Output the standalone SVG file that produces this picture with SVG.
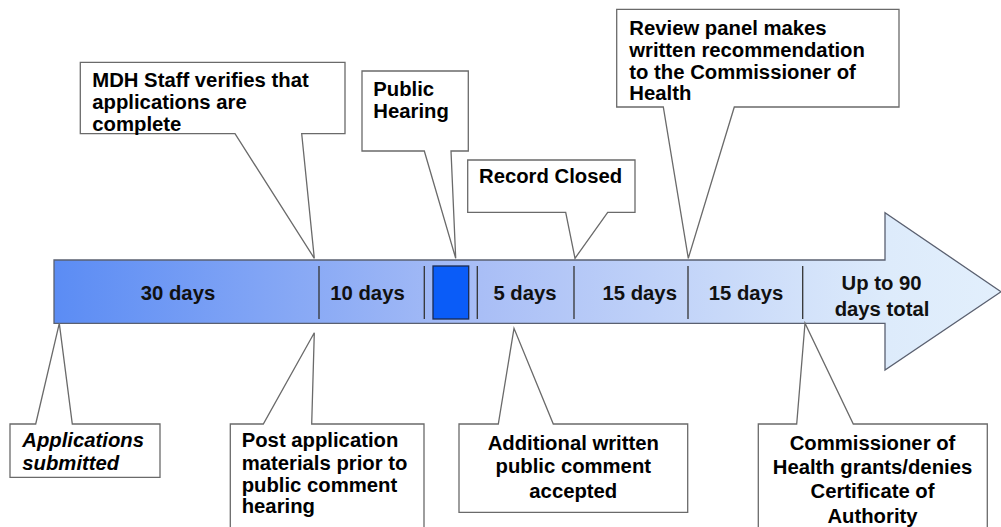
<svg xmlns="http://www.w3.org/2000/svg" width="1001" height="527" viewBox="0 0 1001 527">
<defs>
<linearGradient id="barGrad" gradientUnits="userSpaceOnUse" x1="54" y1="0" x2="1001" y2="0">
<stop offset="0" stop-color="#5B8CF4"/>
<stop offset="0.45" stop-color="#A9BEF6"/>
<stop offset="0.88" stop-color="#DDEBFB"/>
<stop offset="1" stop-color="#E2EFFC"/>
</linearGradient>
</defs>
<style>
.callout{fill:#fff;stroke:#6a6a6a;stroke-width:1.3}
.t{font-family:"Liberation Sans",Arial,sans-serif;font-weight:bold;font-size:20.3px;fill:#000}
.bt{font-family:"Liberation Sans",Arial,sans-serif;font-weight:bold;font-size:20.3px;fill:#111}
.div{stroke:#333;stroke-width:1.3}
</style>
<g id="timeline-arrow">
<path d="M54,260 H885 V212.7 L1001,291.7 L885,370 V323.3 H54 Z" fill="url(#barGrad)" stroke="#5a6070" stroke-width="1.3"/>
<g id="dividers">
<line class="div" x1="319" y1="266" x2="319" y2="319"/>
<line class="div" x1="424.3" y1="266" x2="424.3" y2="319"/>
<line class="div" x1="477.3" y1="266" x2="477.3" y2="319"/>
<line class="div" x1="574" y1="266" x2="574" y2="319"/>
<line class="div" x1="688" y1="266" x2="688" y2="319"/>
<line class="div" x1="802.7" y1="266" x2="802.7" y2="319"/>
</g>
<rect id="hearing-block" x="433" y="266" width="35.7" height="53" fill="#0A5CF8" stroke="#1a2a50" stroke-width="1.3"/>
<text class="bt" x="178" y="300" text-anchor="middle">30 days</text>
<text class="bt" x="367.5" y="300" text-anchor="middle">10 days</text>
<text class="bt" x="525" y="300" text-anchor="middle">5 days</text>
<text class="bt" x="639.7" y="300" text-anchor="middle">15 days</text>
<text class="bt" x="746" y="300" text-anchor="middle">15 days</text>
<text class="bt" x="881.5" y="290" text-anchor="middle">Up to 90</text>
<text class="bt" x="882" y="316" text-anchor="middle">days total</text>
</g>
<g id="connectors"/>
<g id="mdh-staff">
<path class="callout" d="M80.3,62.3 H345 V133.7 H301.7 L314.3,258.3 L235,133.7 H80.3 Z"/>
<text class="t" x="92.3" y="87.3">MDH Staff verifies that</text>
<text class="t" x="92.3" y="109">applications are</text>
<text class="t" x="92.3" y="130.7">complete</text>
</g>
<g id="public-hearing">
<path class="callout" d="M362,71 H468.3 V151 H451 L455.7,258.3 L424.3,151 H362 Z"/>
<text class="t" x="373.3" y="96">Public</text>
<text class="t" x="373.3" y="117.7">Hearing</text>
</g>
<g id="record-closed">
<path class="callout" d="M467.7,160 H635 V212.3 H607.7 L575,258.3 L565.7,212.3 H467.7 Z"/>
<text class="t" x="479" y="183.3">Record Closed</text>
</g>
<g id="review-panel">
<path class="callout" d="M616.7,9.3 H899 V107 H734.3 L688.3,258.3 L663.3,107 H616.7 Z"/>
<text class="t" x="629.3" y="35">Review panel makes</text>
<text class="t" x="629.3" y="57.3">written recommendation</text>
<text class="t" x="629.3" y="79">to the Commissioner of</text>
<text class="t" x="629.3" y="100">Health</text>
</g>
<g id="applications-submitted">
<path class="callout" d="M10,424 H35.7 L59.3,323.3 L72.3,424 H160 V477.3 H10 Z"/>
<text class="t" x="22.3" y="447.3" font-style="italic">Applications</text>
<text class="t" x="22.3" y="470" font-style="italic">submitted</text>
</g>
<g id="post-application">
<path class="callout" d="M230.3,424 H263.3 L314.3,332.7 L311.7,424 H424 V540 H230.3 Z"/>
<text class="t" x="241.7" y="447.3">Post application</text>
<text class="t" x="241.7" y="470">materials prior to</text>
<text class="t" x="241.7" y="492.3">public comment</text>
<text class="t" x="241.7" y="513.3">hearing</text>
</g>
<g id="additional-comment">
<path class="callout" d="M459,424 H498.3 L514,328.3 L553.3,424 H687.7 V512.3 H459 Z"/>
<text class="t" x="573.3" y="450" text-anchor="middle">Additional written</text>
<text class="t" x="573.3" y="473.3" text-anchor="middle">public comment</text>
<text class="t" x="573.3" y="498.3" text-anchor="middle">accepted</text>
</g>
<g id="commissioner-decision">
<path class="callout" d="M758.3,424 H796.7 L805,323.3 L853.3,424 H987.3 V540 H758.3 Z"/>
<text class="t" x="872.5" y="450" text-anchor="middle">Commissioner of</text>
<text class="t" x="872.5" y="474.3" text-anchor="middle">Health grants/denies</text>
<text class="t" x="872.5" y="498.3" text-anchor="middle">Certificate of</text>
<text class="t" x="872.5" y="523.3" text-anchor="middle">Authority</text>
</g>
</svg>
